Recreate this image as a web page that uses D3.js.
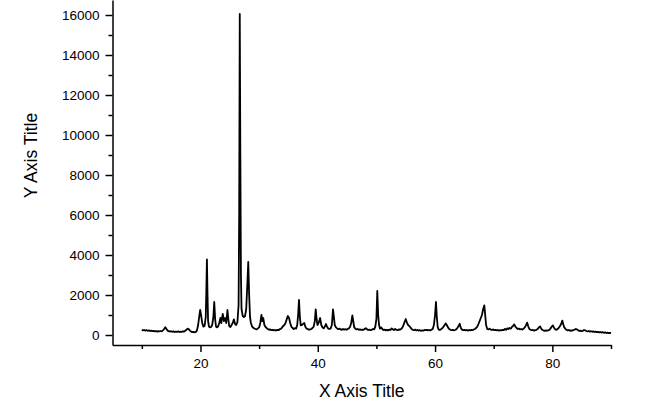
<!DOCTYPE html>
<html>
<head>
<meta charset="utf-8">
<script src="https://cdn.jsdelivr.net/npm/d3@7"></script>
<style>
    body { margin: 0; background: #ffffff; }
    text { font-family: Arial, "Liberation Sans", sans-serif; fill: #000; }
</style>
</head>
<body>
<div id="chart"></div>
<script>
// 2-theta positions and intensities
const twoTheta = [
    10.0, 10.2, 10.4, 10.6, 10.8, 11.0, 11.2, 11.4, 11.6, 11.8, 12.0, 12.2, 12.4, 12.6, 12.8, 13.0, 13.2, 13.4, 13.6, 13.8,
    14.0, 14.2, 14.4, 14.6, 14.8, 15.0, 15.2, 15.4, 15.6, 15.8, 16.0, 16.2, 16.4, 16.6, 16.8, 17.0, 17.2, 17.4, 17.6, 17.8,
    18.0, 18.2, 18.4, 18.6, 18.8, 19.0, 19.2, 19.4, 19.6, 19.8, 19.95, 20.1, 20.3, 20.5, 20.7, 20.9, 21.0, 21.1, 21.2, 21.3,
    21.45, 21.6, 21.8, 22.0, 22.2, 22.35, 22.5, 22.65, 22.8, 23.0, 23.2, 23.4, 23.55, 23.8, 24.0, 24.2, 24.4, 24.6, 24.75, 24.9,
    25.1, 25.3, 25.5, 25.7, 25.9, 26.1, 26.3, 26.5, 26.6, 26.7, 26.8, 26.9, 27.0, 27.2, 27.4, 27.6, 27.8, 28.0, 28.15, 28.3,
    28.45, 28.6, 28.8, 29.0, 29.2, 29.4, 29.6, 29.8, 30.0, 30.2, 30.4, 30.55, 30.7, 30.9, 31.1, 31.3, 31.5, 31.7, 31.9, 32.1,
    32.3, 32.5, 32.7, 32.9, 33.1, 33.3, 33.5, 33.7, 33.9, 34.1, 34.3, 34.5, 34.7, 34.9, 35.1, 35.3, 35.5, 35.7, 35.9, 36.1,
    36.3, 36.5, 36.65, 36.8, 36.95, 37.1, 37.3, 37.5, 37.7, 37.9, 38.1, 38.3, 38.5, 38.7, 38.9, 39.1, 39.3, 39.5, 39.65, 39.8,
    39.95, 40.2, 40.4, 40.6, 40.8, 41.0, 41.2, 41.4, 41.6, 41.8, 42.0, 42.2, 42.4, 42.6, 42.75, 42.9, 43.1, 43.3, 43.5, 43.7,
    43.9, 44.1, 44.3, 44.5, 44.7, 44.9, 45.1, 45.3, 45.5, 45.7, 45.9, 46.05, 46.2, 46.4, 46.6, 46.8, 47.0, 47.2, 47.4, 47.6,
    47.8, 48.0, 48.2, 48.4, 48.6, 48.8, 49.0, 49.2, 49.4, 49.6, 49.8, 50.0, 50.15, 50.3, 50.45, 50.6, 50.8, 51.0, 51.2, 51.4,
    51.6, 51.8, 52.0, 52.2, 52.4, 52.6, 52.8, 53.0, 53.2, 53.4, 53.6, 53.8, 54.0, 54.2, 54.4, 54.6, 54.8, 55.0, 55.2, 55.4,
    55.6, 55.8, 56.0, 56.2, 56.4, 56.6, 56.8, 57.0, 57.2, 57.4, 57.6, 57.8, 58.0, 58.2, 58.4, 58.6, 58.8, 59.0, 59.2, 59.4,
    59.6, 59.8, 60.0, 60.15, 60.3, 60.45, 60.6, 60.8, 61.0, 61.2, 61.4, 61.6, 61.8, 62.0, 62.2, 62.4, 62.6, 62.8, 63.0, 63.2,
    63.4, 63.6, 63.8, 64.0, 64.2, 64.4, 64.6, 64.8, 65.0, 65.2, 65.4, 65.6, 65.8, 66.0, 66.2, 66.4, 66.6, 66.8, 67.0, 67.2,
    67.4, 67.6, 67.8, 68.0, 68.2, 68.4, 68.55, 68.7, 68.9, 69.1, 69.3, 69.5, 69.7, 69.9, 70.1, 70.3, 70.5, 70.7, 70.9, 71.1,
    71.3, 71.5, 71.7, 71.9, 72.1, 72.3, 72.5, 72.7, 72.9, 73.1, 73.3, 73.5, 73.7, 73.9, 74.1, 74.3, 74.5, 74.7, 74.9, 75.1,
    75.3, 75.5, 75.7, 75.9, 76.1, 76.3, 76.5, 76.7, 76.9, 77.1, 77.3, 77.5, 77.7, 77.9, 78.1, 78.3, 78.5, 78.7, 78.9, 79.1,
    79.3, 79.5, 79.7, 79.9, 80.1, 80.3, 80.5, 80.7, 80.9, 81.1, 81.3, 81.5, 81.7, 81.85, 82.0, 82.2, 82.4, 82.6, 82.8, 83.0,
    83.2, 83.4, 83.6, 83.8, 84.0, 84.2, 84.4, 84.6, 84.8, 85.0, 85.2, 85.4, 85.6, 85.8, 86.0, 86.2, 86.4, 86.6, 86.8, 87.0,
    87.2, 87.4, 87.6, 87.8, 88.0, 88.2, 88.4, 88.6, 88.8, 89.0, 89.2, 89.4, 89.6, 89.8, 90.0
];
const intensity = [
    260, 230, 250, 220, 240, 210, 230, 200, 220, 190, 210, 180, 200, 170, 190, 180, 200, 180, 230, 300,
    390, 300, 220, 190, 170, 190, 160, 180, 150, 170, 160, 180, 150, 170, 160, 180, 170, 210, 260, 320,
    290, 220, 170, 140, 160, 130, 150, 230, 500, 950, 1250, 1000, 600, 420, 450, 900, 2200, 3780, 2000, 700,
    420, 380, 400, 500, 900, 1650, 800, 420, 380, 420, 600, 850, 600, 1050, 700, 850, 600, 1250, 800, 450,
    400, 500, 600, 780, 550, 500, 650, 1500, 6000, 16050, 9000, 3000, 1300, 950, 900, 950, 1300, 2600, 3650, 2000,
    900, 600, 430, 360, 320, 300, 280, 330, 380, 600, 1000, 700, 850, 500, 400, 340, 300, 260, 280, 240,
    260, 230, 250, 220, 260, 240, 290, 310, 370, 450, 500, 600, 780, 950, 850, 600, 420, 350, 300, 340,
    320, 500, 1000, 1750, 900, 480, 500, 560, 600, 400, 320, 300, 260, 280, 300, 350, 420, 700, 1280, 800,
    500, 650, 850, 500, 380, 330, 420, 550, 400, 320, 300, 330, 500, 1280, 900, 500, 380, 330, 290, 320,
    280, 260, 300, 270, 290, 260, 300, 330, 400, 600, 980, 700, 400, 320, 280, 300, 260, 280, 250, 270,
    260, 300, 340, 280, 250, 270, 240, 260, 300, 280, 400, 800, 2200, 1000, 500, 320, 380, 300, 250, 270,
    230, 260, 230, 270, 250, 330, 280, 250, 300, 260, 240, 280, 260, 300, 360, 480, 650, 800, 620, 500,
    450, 380, 300, 260, 240, 270, 230, 250, 220, 240, 210, 230, 220, 250, 240, 260, 230, 250, 230, 270,
    300, 500, 1000, 1650, 900, 400, 280, 250, 280, 330, 400, 480, 580, 500, 380, 300, 260, 240, 260, 230,
    250, 280, 350, 450, 560, 350, 270, 240, 260, 230, 250, 220, 250, 230, 260, 240, 280, 300, 350, 420,
    550, 700, 850, 1000, 1300, 1480, 1000, 500, 300, 280, 320, 270, 250, 280, 240, 260, 230, 250, 220, 240,
    230, 260, 240, 300, 260, 330, 300, 350, 320, 400, 450, 530, 420, 350, 300, 320, 280, 300, 270, 320,
    380, 480, 620, 420, 290, 260, 240, 250, 220, 240, 260, 300, 380, 430, 320, 250, 230, 210, 230, 210,
    240, 260, 330, 420, 480, 350, 280, 260, 300, 360, 450, 550, 720, 550, 400, 320, 260, 230, 250, 210,
    230, 220, 250, 270, 300, 280, 240, 200, 220, 190, 210, 250, 230, 200, 180, 200, 170, 190, 160, 180,
    150, 170, 140, 160, 130, 150, 120, 140, 110, 130, 100, 120, 90, 110, 90
];
const xMajorTicks = [20, 40, 60, 80];
const xMinorTicks = [10, 30, 50, 70, 90];
const yMajorTicks = [0, 2000, 4000, 6000, 8000, 10000, 12000, 14000, 16000];
const yMinorTicks = [1000, 3000, 5000, 7000, 9000, 11000, 13000, 15000];
const xTitle = "X Axis Title";
const yTitle = "Y Axis Title";

const svgW = 649;
const svgH = 403;
const plotLeft = 112.5, plotRight = 611, plotTop = 0, plotBottom = 345;

const svg = d3.select("div#chart")
    .append("svg")
    .attr("width", svgW)
    .attr("height", svgH);

const xScale = d3.scaleLinear().domain([5, 90]).range([plotLeft, plotRight]);
const yScale = d3.scaleLinear().domain([-500, 16750]).range([plotBottom, plotTop]);

const points = twoTheta.map((t, i) => ({ t: t, v: intensity[i] }));

// x axis: labelled majors + unlabelled minors
svg.append("g")
    .attr("transform", "translate(0," + plotBottom + ")")
    .call(d3.axisBottom(xScale).tickValues(xMinorTicks).tickSize(4).tickFormat(""))
    .call(g => g.select(".domain").remove());
svg.append("g")
    .attr("transform", "translate(0," + plotBottom + ")")
    .call(d3.axisBottom(xScale).tickValues(xMajorTicks).tickSize(7).tickSizeOuter(0).tickPadding(6).tickFormat(d3.format("d")))
    .call(g => g.selectAll("text").style("font-size", "13.5px").attr("fill", "#000"));

// y axis
svg.append("g")
    .attr("transform", "translate(" + plotLeft + ",0)")
    .call(d3.axisLeft(yScale).tickValues(yMinorTicks).tickSize(4).tickFormat(""))
    .call(g => g.select(".domain").remove());
svg.append("g")
    .attr("transform", "translate(" + plotLeft + ",0)")
    .call(d3.axisLeft(yScale).tickValues(yMajorTicks).tickSize(7).tickSizeOuter(0).tickPadding(6).tickFormat(d3.format("d")))
    .call(g => g.selectAll("text").style("font-size", "13.5px").attr("fill", "#000"));

svg.selectAll(".domain, .tick line")
    .attr("stroke", "#000")
    .attr("stroke-width", 1.5);

// pattern line
const line = d3.line()
    .x(d => xScale(d.t))
    .y(d => yScale(d.v));

svg.append("path")
    .datum(points)
    .attr("d", line)
    .attr("fill", "none")
    .attr("stroke", "#000")
    .attr("stroke-width", 1.8)
    .attr("stroke-linejoin", "round");

// axis titles
svg.append("text")
    .attr("x", (plotLeft + plotRight) / 2)
    .attr("y", 396.5)
    .attr("text-anchor", "middle")
    .style("font-size", "17.5px")
    .text(xTitle);

svg.append("text")
    .attr("transform", "translate(37,155.5) rotate(-90)")
    .attr("text-anchor", "middle")
    .style("font-size", "17.5px")
    .text(yTitle);
</script>
</body>
</html>
